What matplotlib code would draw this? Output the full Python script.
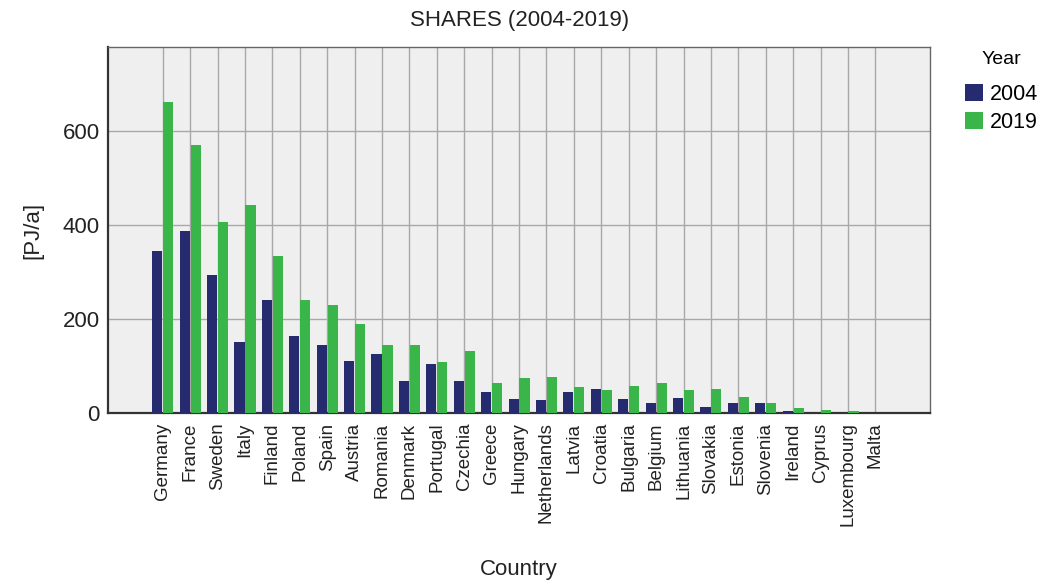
import numpy as np
import matplotlib
matplotlib.use("Agg")
import matplotlib.pyplot as plt

plt.rcParams['font.family'] = ['Liberation Sans', 'DejaVu Sans']

# Werte (PJ/a)
countries = ["Germany", "France", "Sweden", "Italy", "Finland", "Poland", "Spain",
             "Austria", "Romania", "Denmark", "Portugal", "Czechia", "Greece",
             "Hungary", "Netherlands", "Latvia", "Croatia", "Bulgaria", "Belgium",
             "Lithuania", "Slovakia", "Estonia", "Slovenia", "Ireland", "Cyprus",
             "Luxembourg", "Malta"]
val_2004 = [346, 387, 293, 152, 241, 163, 144, 111, 126, 68, 104, 69, 45,
            29, 27, 45, 50, 29, 22, 31, 13, 22, 22, 4, 0.5, 0.5, 0.2]
val_2019 = [662, 572, 407, 444, 335, 241, 229, 190, 145, 145, 108, 132, 63,
            75, 77, 56, 48, 58, 63, 49, 50, 33, 22, 11, 6, 3, 0.8]
years = ["2004", "2019"]
colors = ["#262a6f", "#3ab54a"]
yticks = [0, 200, 400, 600]

fig = plt.figure(figsize=(10.44, 5.84), dpi=100)
ax = fig.add_axes([0.1034, 0.293, 0.7876, 0.6265])

x = np.arange(len(countries))
w = 0.37
ax.bar(x - 0.2, val_2004, width=w, color=colors[0], label=years[0], zorder=3)
ax.bar(x + 0.2, val_2019, width=w, color=colors[1], label=years[1], zorder=3)

ax.set_facecolor("#efefef")
ax.set_xlim(-2, len(countries) + 1)
ax.set_ylim(0, 780)
ax.set_xticks(x)
ax.set_xticklabels(countries, rotation=90, fontsize=13.5)
ax.set_yticks(yticks)
ax.set_yticklabels([str(t) for t in yticks], fontsize=16)
ax.tick_params(axis='x', length=0, pad=7, colors="#222222")
ax.tick_params(axis='y', length=0, pad=6, colors="#222222")
ax.grid(True, color="#a8a8a8", linewidth=1.0)
ax.set_axisbelow(True)

for side in ["left", "bottom"]:
    ax.spines[side].set_color("#333333")
    ax.spines[side].set_linewidth(1.6)
for side in ["top", "right"]:
    ax.spines[side].set_color("#666666")
    ax.spines[side].set_linewidth(1.0)

ax.set_title("SHARES (2004-2019)", fontsize=16, pad=15, color="#222222")
ax.set_ylabel("[PJ/a]", fontsize=16, labelpad=14, color="#222222")
fig.text(0.497, 0.025, "Country", fontsize=16, ha="center", va="center", color="#222222")

fig.legend(loc="upper left", bbox_to_anchor=(0.916, 0.928), frameon=False,
           title="Year", title_fontsize=14, fontsize=15.5,
           handlelength=0.85, handleheight=0.85, handletextpad=0.3,
           labelspacing=0.32, borderaxespad=0)
fig.legends[0]._legend_box.sep = 12

fig.savefig("out.png", dpi=100)
